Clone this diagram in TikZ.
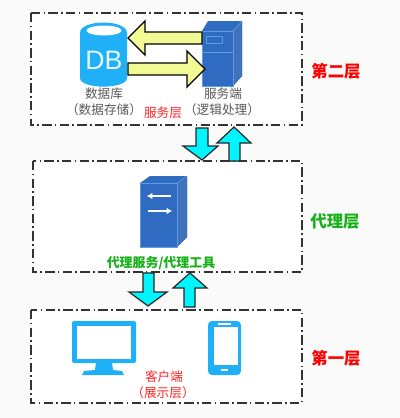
\documentclass[tikz,border=0pt]{standalone}
\usepackage{fontspec}
\usetikzlibrary{arrows.meta}
\setmainfont{Noto Sans CJK SC}
\newfontfamily\latinf{Liberation Sans}
\definecolor{bgc}{HTML}{FAFAFA}
\definecolor{skyb}{HTML}{1FB0F7}
\definecolor{srv}{HTML}{2F6BC0}
\definecolor{srvd}{HTML}{2A62B4}
\definecolor{srvl}{HTML}{5C9BDC}
\definecolor{yel}{HTML}{F2FA96}
\definecolor{cyanb}{HTML}{00F6FF}
\definecolor{gtxt}{HTML}{18B018}
\tikzset{
  x=0.75pt,y=-0.75pt,
  layerbox/.style={draw=black!80,fill=white,line width=0.9pt,dash pattern=on 7pt off 2.5pt on 1.2pt off 2.5pt},
  yelarrow/.style={draw=black,fill=yel,line width=1pt,line join=miter},
  cyanarrow/.style={draw=black!85,fill=cyanb,line width=0.9pt,line join=miter},
  graytxt/.style={text=black!65,font=\fontsize{9.5}{11}\selectfont,inner sep=0pt},
  redtxt/.style={text=red!85!white,font=\fontsize{9.5}{11}\selectfont,inner sep=0pt},
  layertxt/.style={font=\fontsize{12.3}{14}\selectfont\bfseries,inner sep=0pt},
}
\begin{document}
\begin{tikzpicture}
\useasboundingbox (0,0) rectangle (400,418);
\fill[bgc] (0,0) rectangle (400,418);
% layer boxes
\draw[layerbox] (31,13) rectangle (302,125);
\draw[layerbox] (33,161) rectangle (302,272);
\draw[layerbox] (31,310) rectangle (302,403);
% database
\fill[skyb] (80,33) -- (80,78) .. controls (80,89.5) and (127,89.5) .. (127,78) -- (127,33) .. controls (127,19) and (80,19) .. (80,33) -- cycle;
\fill[white] (104,30.5) ellipse[x radius=17.5,y radius=5];
\node[inner sep=0pt,text=white!90!skyb,font=\latinf\fontsize{20}{22}\selectfont] (db) at (104,60) {DB};
% server
\fill[srv] (202,31) -- (208,21) -- (242,21) -- (242,76) -- (233,86) -- (202,86) -- cycle;
\fill[srvd!90!white] (233,31) -- (242,21) -- (242,76) -- (233,86) -- cycle;
\draw[srvl,line width=0.6pt] (202,31) rectangle (233,86);
\draw[srvl,line width=0.6pt] (202,52) -- (233,52);
\draw[srvl,line width=0.6pt] (206,36.5) rectangle (222,43);
\draw[srvl,line width=0.5pt] (233,31) -- (242,21);
% yellow arrows
\draw[yelarrow] (202,32) -- (145,32) -- (145,21) -- (128,38) -- (145,55) -- (145,44) -- (202,44) -- cycle;
\draw[yelarrow] (128,63) -- (187,63) -- (187,51) -- (205,69) -- (187,87) -- (187,75) -- (128,75) -- cycle;
% labels top
\node[graytxt] (t1) at (104,94) {数据库};
\node[graytxt] (t2) at (104,110) {（数据存储）};
\node[redtxt] (t3) at (163,113) {服务层};
\node[graytxt] (t4) at (223,94) {服务端};
\node[graytxt] (t5) at (222,110) {（逻辑处理）};
% cyan arrows
\draw[cyanarrow] (196,128) -- (208,128) -- (208,146) -- (218,146) -- (202,160) -- (183,146) -- (196,146) -- cycle;
\draw[cyanarrow] (229,161) -- (229,143) -- (217,143) -- (234,127) -- (251,143) -- (240,143) -- (240,161) -- cycle;
% proxy server
\fill[srv] (140,183) -- (150,176) -- (187,176) -- (187,237) -- (177,247) -- (140,247) -- cycle;
\fill[srvd!90!white] (177,183) -- (187,176) -- (187,237) -- (177,247) -- cycle;
\draw[srvl,line width=0.6pt] (140,183) rectangle (177,247);
\draw[srvl,line width=0.5pt] (177,183) -- (187,176);
\draw[white,line width=1pt,-{Latex[length=4pt,width=5pt]}] (171,196) -- (147,196);
\draw[white,line width=1pt,-{Latex[length=4pt,width=5pt]}] (148,211) -- (172,211);
\node[inner sep=0pt,text=gtxt,font=\fontsize{9.7}{11}\selectfont\bfseries] (t6) at (161,263) {代理服务/代理工具};
% cyan arrows lower
\draw[cyanarrow] (143,273) -- (154,273) -- (154,292) -- (167,292) -- (148,306) -- (129,292) -- (143,292) -- cycle;
\draw[cyanarrow] (184,307) -- (184,288) -- (173,288) -- (190,273) -- (207,288) -- (195,288) -- (195,307) -- cycle;
% monitor
\fill[skyb,rounded corners=1.2pt] (72,321) rectangle (136,363);
\fill[white] (77,326) rectangle (131,359);
\fill[skyb] (96,362) -- (112,362) -- (113,370) -- (122,371) -- (124,375) -- (82,375) -- (84,371) -- (95,370) -- cycle;
% phone
\fill[skyb,rounded corners=3pt] (208,321) rectangle (241,375);
\fill[white] (213.5,327) rectangle (238,365);
\fill[white] (218,323) rectangle (231,324.5);
\fill[white] (221,369) rectangle (228,371);
% bottom labels
\node[redtxt] (t7) at (164,377) {客户端};
\node[redtxt] (t8) at (163,393) {（展示层）};
% layer labels
\node[layertxt,text=red] (l2) at (336,71) {第二层};
\node[layertxt,text=gtxt] (l1) at (335,221) {代理层};
\node[layertxt,text=red] (l0) at (336,358) {第一层};
\end{tikzpicture}
\end{document}
